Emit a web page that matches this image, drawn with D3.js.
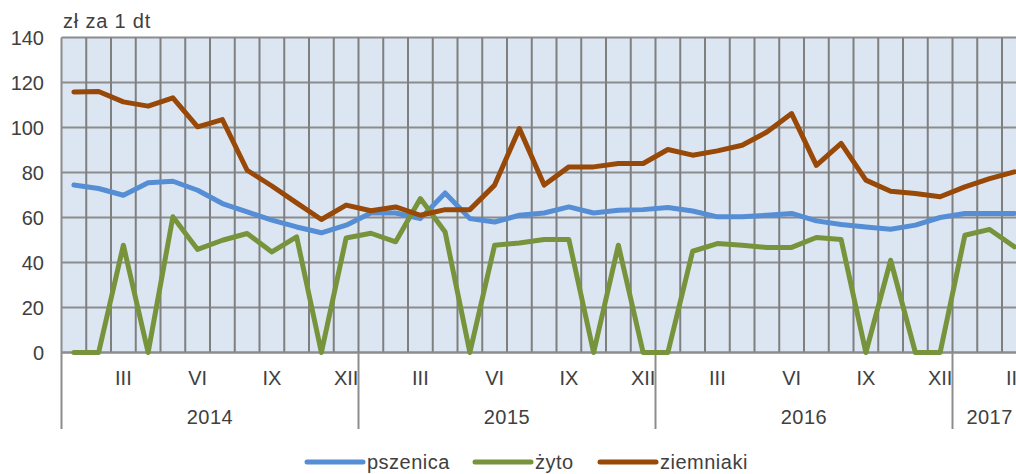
<!DOCTYPE html>
<html>
<head>
<meta charset="utf-8">
<script src="https://cdn.jsdelivr.net/npm/d3@7"></script>
<style>
  body { margin: 0; background: #fff; }
  svg { display: block; font-family: "Liberation Sans", Arial, sans-serif; }
</style>
</head>
<body>
<script>
// data
const years = ["2014", "2015", "2016", "2017"];
const monthLabels = ["I", "II", "III", "IV", "V", "VI", "VII", "VIII", "IX", "X", "XI", "XII"];
const shownMonths = ["III", "VI", "IX", "XII"];
const yTicks = [0, 20, 40, 60, 80, 100, 120, 140];

const pszenica = [
  74.4, 72.9, 69.9, 75.4, 76.1, 72.1, 66.2, 62.5, 58.8, 55.8, 53.2, 56.6,
  62.0, 62.0, 59.5, 70.9, 59.5, 58.0, 61.0, 62.0, 64.7, 62.0, 63.2, 63.5,
  64.4, 62.9, 60.3, 60.3, 61.0, 61.8, 58.5, 56.9, 55.8, 54.8, 56.6, 60.0,
  61.8, 61.8, 61.8
];
const zyto = [
  0, 0, 47.7, 0, 60.3, 45.8, 49.9, 52.9, 44.7, 51.4, 0, 50.9,
  53.0, 49.2, 68.4, 53.6, 0, 47.7, 48.7, 50.2, 50.2, 0, 47.7, 0,
  0, 45.0, 48.4, 47.7, 46.7, 46.7, 51.1, 50.2, 0, 41.0, 0, 0,
  52.1, 54.7, 47.0
];
const ziemniaki = [
  115.8, 116.0, 111.4, 109.5, 113.2, 100.3, 103.5, 81.0, 74.0, 66.5, 59.1, 65.5,
  63.0, 64.7, 61.0, 63.5, 63.5, 74.4, 99.5, 74.4, 82.5, 82.5, 84.0, 84.0,
  90.2, 87.7, 89.6, 92.1, 98.0, 106.2, 83.2, 92.9, 76.6, 71.7, 70.7, 69.2,
  73.6, 77.3, 80.3
];

const series = [
  {name: "pszenica", values: pszenica, color: "#558ed5"},
  {name: "żyto", values: zyto, color: "#77933c"},
  {name: "ziemniaki", values: ziemniaki, color: "#984807"}
];

// month keys for the band scale
const periods = pszenica.map((d, i) => ({
  key: i,
  year: years[Math.floor(i / 12)],
  month: monthLabels[i % 12]
}));

const W = 1016, H = 474;
const plotLeft = 61.5, plotTop = 37.5, plotBottom = 352.5;
const step = 24.75;
const plotRight = plotLeft + periods.length * step;

const svg = d3.select("body").append("svg")
    .attr("width", W)
    .attr("height", H);

const x = d3.scaleBand()
    .domain(periods.map(d => d.key))
    .range([plotLeft, plotRight]);
const y = d3.scaleLinear()
    .domain([0, 140])
    .range([plotBottom, plotTop]);

// plot background
svg.append("rect")
    .attr("x", plotLeft).attr("y", plotTop)
    .attr("width", plotRight - plotLeft).attr("height", plotBottom - plotTop)
    .attr("fill", "#dce6f2");

// horizontal grid
svg.append("g").selectAll("line")
    .data(yTicks)
    .enter().append("line")
    .attr("x1", plotLeft).attr("x2", plotRight)
    .attr("y1", d => y(d)).attr("y2", d => y(d))
    .attr("stroke", "#8c8c8c")
    .attr("stroke-width", 2);

// vertical grid (month boundaries)
svg.append("g").selectAll("line")
    .data(periods.slice(1))
    .enter().append("line")
    .attr("x1", d => x(d.key)).attr("x2", d => x(d.key))
    .attr("y1", plotTop).attr("y2", plotBottom)
    .attr("stroke", "#7f7f7f")
    .attr("stroke-width", 2);

// y axis labels
svg.append("g").selectAll("text")
    .data(yTicks)
    .enter().append("text")
    .attr("x", 44)
    .attr("y", d => y(d))
    .attr("dy", "0.35em")
    .attr("text-anchor", "end")
    .attr("font-size", 20)
    .attr("fill", "#404040")
    .text(d => d);

svg.append("text")
    .attr("x", 63).attr("y", 28)
    .attr("font-size", 20)
    .attr("letter-spacing", 0.8)
    .attr("fill", "#404040")
    .text("zł za 1 dt");

// x axis: left line, year separators
svg.append("line")
    .attr("x1", plotLeft).attr("x2", plotLeft)
    .attr("y1", plotTop).attr("y2", 429)
    .attr("stroke", "#8c8c8c").attr("stroke-width", 2);

const yearStarts = periods.filter(d => d.month === "I" && d.key > 0);
svg.append("g").selectAll("line")
    .data(yearStarts)
    .enter().append("line")
    .attr("x1", d => x(d.key)).attr("x2", d => x(d.key))
    .attr("y1", plotBottom).attr("y2", 429)
    .attr("stroke", "#8c8c8c").attr("stroke-width", 2);

// month labels
svg.append("g").selectAll("text")
    .data(periods.filter(d => shownMonths.includes(d.month)))
    .enter().append("text")
    .attr("x", d => x(d.key) + x.bandwidth() / 2)
    .attr("y", 385)
    .attr("text-anchor", "middle")
    .attr("font-size", 20)
    .attr("fill", "#404040")
    .text(d => d.month);

// year labels
const yearGroups = d3.groups(periods, d => d.year);
svg.append("g").selectAll("text")
    .data(yearGroups)
    .enter().append("text")
    .attr("x", d => {
      const first = d[1][0].key, last = d[1][d[1].length - 1].key;
      return (x(first) + x(last) + x.bandwidth()) / 2;
    })
    .attr("y", 424)
    .attr("text-anchor", "middle")
    .attr("font-size", 20)
    .attr("letter-spacing", 0.5)
    .attr("fill", "#404040")
    .text(d => d[0]);

// bottom axis line
svg.append("line")
    .attr("x1", plotLeft).attr("x2", plotRight)
    .attr("y1", plotBottom).attr("y2", plotBottom)
    .attr("stroke", "#8c8c8c").attr("stroke-width", 2);

// series lines
const line = d3.line()
    .x((d, i) => x(i) + x.bandwidth() / 2)
    .y(d => y(d));

svg.append("g").selectAll("path")
    .data(series)
    .enter().append("path")
    .attr("d", d => line(d.values))
    .attr("fill", "none")
    .attr("stroke", d => d.color)
    .attr("stroke-width", 5)
    .attr("stroke-linejoin", "round")
    .attr("stroke-linecap", "round");

// legend
const legendX = [307, 475, 600];
const legend = svg.append("g").selectAll("g")
    .data(series)
    .enter().append("g")
    .attr("transform", (d, i) => "translate(" + legendX[i] + ",462)");
legend.append("line")
    .attr("x1", 0).attr("x2", 56)
    .attr("stroke", d => d.color)
    .attr("stroke-width", 5)
    .attr("stroke-linecap", "round");
legend.append("text")
    .attr("x", 60)
    .attr("dy", "0.35em")
    .attr("font-size", 20)
    .attr("letter-spacing", 0.5)
    .attr("fill", "#404040")
    .text(d => d.name);
</script>
</body>
</html>
